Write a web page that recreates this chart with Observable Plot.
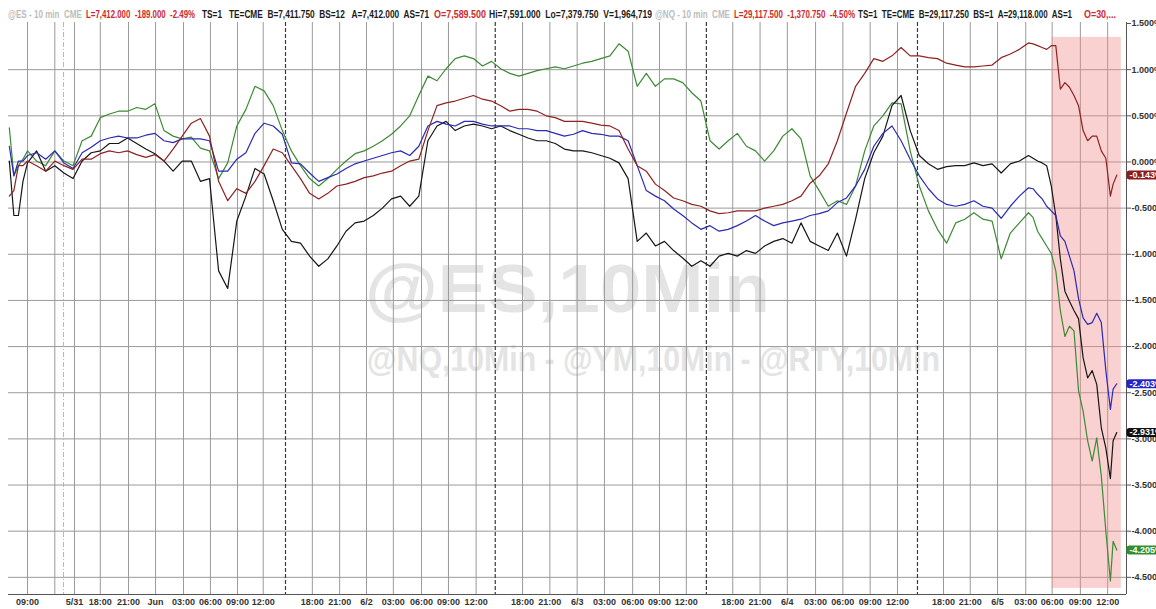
<!DOCTYPE html>
<html><head><meta charset="utf-8">
<script src="https://cdn.jsdelivr.net/npm/d3@7"></script>
<script src="https://cdn.jsdelivr.net/npm/@observablehq/plot@0.6"></script>
<style>
html,body{margin:0;padding:0;background:#fff;}
#chart{position:relative;width:1156px;height:609px;overflow:hidden;}
</style></head><body><div id="chart"></div>
<script>
// trading-time axis (hours, session gaps removed)
const hours = [-2,-1.5,-1,-0.5,
 0,1,2,3,4,5,6,7,8,9,
 10,11,12,13,14,15,16,17,18,19,
 20,21,22,23,24,25,26,27,28,29,
 30,31,32,33,34,35,36,37,38,39,
 40,41,42,43,44,45,46,47,48,49,
 50,51,52,53,54,55,56,57,58,59,
 60,61,62,63,64,65,66,67,68,69,
 70,71,72,73,74,75,76,77,78,79,
 80,81,82,83,84,85,86,87,88,89,
 90,91,92,93,94,95,96,97,98,99,
 100,101,102,103,104,105,106,107,108,109,
 110,110.5,111,111.5,112,112.5,113,113.5,114,114.5,115,115.5,116,116.5,117,117.5,118,118.5,119,
 119.3,119.7];

// % change series
const blackPct = [0.01,-0.58,-0.58,-0.21,
 -0.01,0.12,-0.10,-0.04,-0.12,-0.18,0.01,0.10,0.12,0.20,
 0.20,0.26,0.20,0.14,0.09,0.01,-0.10,0.01,0.01,-0.21,
 -0.18,-1.18,-1.37,-0.64,-0.37,-0.07,-0.13,-0.42,-0.73,-0.86,
 -0.88,-1.02,-1.13,-1.05,-0.91,-0.75,-0.66,-0.64,-0.58,-0.50,
 -0.40,-0.37,-0.48,-0.37,0.23,0.39,0.44,0.34,0.39,0.41,
 0.39,0.36,0.39,0.34,0.30,0.26,0.23,0.23,0.20,0.14,
 0.12,0.12,0.10,0.07,0.04,-0.01,-0.18,-0.86,-0.77,-0.91,
 -0.86,-0.96,-1.04,-1.13,-1.07,-1.13,-1.02,-0.99,-1.02,-0.96,
 -0.99,-0.91,-0.86,-0.83,-0.88,-0.66,-0.86,-0.91,-0.96,-0.77,
 -1.02,-0.62,-0.18,0.10,0.28,0.61,0.72,0.34,0.07,-0.02,
 -0.08,-0.05,-0.04,-0.04,-0.01,-0.04,-0.02,-0.12,-0.02,0.01,
 0.07,0.04,0.01,-0.01,-0.04,-0.26,-0.58,-1.05,-1.40,-1.51,-1.61,-1.70,-2.12,-2.34,-2.26,-2.41,-2.88,-3.10,-3.43,
 -3.02,-2.931];

const bluePct = [0.17,-0.15,0.01,0.01,
 0.07,0.10,0.03,0.12,-0.01,-0.07,0.10,0.16,0.23,0.26,
 0.28,0.26,0.26,0.29,0.31,0.23,0.21,0.25,0.25,0.25,
 0.23,-0.10,-0.10,0.03,0.10,0.31,0.42,0.39,0.30,-0.01,
 -0.02,-0.12,-0.21,-0.17,-0.13,-0.07,-0.02,0.01,0.04,0.07,
 0.10,0.12,0.07,0.17,0.39,0.44,0.41,0.39,0.44,0.44,
 0.41,0.39,0.39,0.39,0.36,0.36,0.34,0.34,0.31,0.28,
 0.30,0.34,0.31,0.30,0.28,0.28,0.23,-0.04,-0.31,-0.37,
 -0.42,-0.51,-0.58,-0.66,-0.73,-0.69,-0.75,-0.73,-0.69,-0.64,
 -0.58,-0.64,-0.69,-0.66,-0.64,-0.62,-0.58,-0.56,-0.53,-0.44,
 -0.39,-0.26,-0.08,0.17,0.31,0.39,0.23,0.03,-0.15,-0.29,
 -0.40,-0.46,-0.48,-0.46,-0.42,-0.48,-0.50,-0.61,-0.48,-0.37,
 -0.28,-0.29,-0.35,-0.40,-0.48,-0.53,-0.58,-0.80,-0.86,-1.02,-1.18,-1.48,-1.69,-1.76,-1.74,-1.64,-1.74,-2.26,-2.68,
 -2.46,-2.403];

const redPct = [-0.37,-0.31,-0.04,-0.04,
 0.01,-0.04,-0.10,0.01,-0.04,-0.08,0.03,0.03,0.09,0.12,
 0.10,0.12,0.08,0.05,0.08,0.01,0.14,0.28,0.42,0.47,
 0.28,-0.21,-0.42,-0.29,-0.34,-0.21,-0.04,0.14,0.10,-0.04,
 -0.18,-0.34,-0.40,-0.34,-0.26,-0.24,-0.21,-0.17,-0.15,-0.12,
 -0.10,-0.04,0.01,0.03,0.34,0.61,0.64,0.66,0.69,0.72,
 0.68,0.66,0.61,0.55,0.57,0.57,0.55,0.50,0.48,0.44,
 0.44,0.44,0.42,0.40,0.39,0.34,0.14,-0.04,-0.10,-0.24,
 -0.31,-0.39,-0.42,-0.46,-0.48,-0.53,-0.56,-0.55,-0.53,-0.53,
 -0.53,-0.50,-0.48,-0.46,-0.42,-0.37,-0.23,-0.15,-0.02,0.23,
 0.53,0.82,0.96,1.12,1.09,1.15,1.24,1.15,1.15,1.13,
 1.12,1.07,1.05,1.03,1.03,1.04,1.05,1.13,1.17,1.22,
 1.29,1.28,1.26,1.24,1.22,1.26,1.26,0.79,0.86,0.81,0.72,0.61,0.34,0.23,0.28,0.28,0.12,0.04,-0.37,
 -0.24,-0.143];

const greenPct = [0.37,-0.15,-0.04,0.03,
 0.12,0.01,-0.04,0.12,0.01,-0.04,0.23,0.28,0.48,0.52,
 0.55,0.55,0.59,0.57,0.63,0.34,0.28,0.25,0.27,0.15,
 0.12,-0.18,-0.01,0.39,0.57,0.82,0.77,0.61,0.34,0.12,
 -0.04,-0.18,-0.26,-0.18,-0.08,0.01,0.09,0.12,0.17,0.23,
 0.30,0.39,0.50,0.72,0.93,0.88,1.01,1.12,1.15,1.12,
 1.04,1.09,1.01,0.96,0.93,0.96,0.99,1.01,1.03,1.01,
 1.04,1.07,1.09,1.12,1.15,1.28,1.20,0.82,0.96,0.82,
 0.90,0.90,0.86,0.75,0.66,0.23,0.14,0.23,0.31,0.17,
 0.12,0.01,0.12,0.28,0.36,0.25,-0.15,-0.31,-0.48,-0.42,
 -0.46,-0.26,0.12,0.39,0.50,0.64,0.63,0.12,-0.26,-0.53,
 -0.73,-0.88,-0.66,-0.62,-0.55,-0.62,-0.64,-1.05,-0.77,-0.66,
 -0.55,-0.60,-0.75,-0.83,-0.91,-0.99,-1.18,-1.61,-1.89,-1.78,-1.83,-2.48,-2.70,-3.02,-3.24,-2.99,-3.40,-4.00,-4.54,
 -4.11,-4.205];

// x-axis ticks (trading-hour positions) and their labels
const tickHours  = [0,3,5.16,8,11.1,14.07,17.14,20.1,23.08,25.9,
 31.3,34.3,37.25,40.2,43.3,46.26,49.3,
 54.4,57.4,60.4,63.4,66.5,69.45,72.4,
 77.5,80.5,83.5,86.6,89.6,92.6,95.6,
 100.66,103.6,106.6,109.7,112.6,115.7,118.7];
const tickLabels = ["09:00","","5/31","18:00","21:00","Jun","03:00","06:00","09:00","12:00",
 "18:00","21:00","6/2","03:00","06:00","09:00","12:00",
 "18:00","21:00","6/3","03:00","06:00","09:00","12:00",
 "18:00","21:00","6/4","03:00","06:00","09:00","12:00",
 "18:00","21:00","6/5","03:00","06:00","09:00","12:00"];
const sessionBreaks = [28.35, 51.4, 74.6, 97.8];
const weekendBreak = [3.96];
const yTicks = [1.5,1,0.5,0,-0.5,-1,-1.5,-2,-2.5,-3,-3.5,-4,-4.5];
const highlight = [{x1: 112.6, x2: 120.2, y1: -4.62, y2: 1.35}];

// header groups: text and colour
const headerText = [
 "@ES - 10 min  CME",
 "L=7,412.000  -189.000  -2.49%",
 "TS=1   TE=CME  B=7,411.750  BS=12   A=7,412.000  AS=71",
 "O=7,589.500",
 "Hi=7,591.000  Lo=7,379.750  V=1,964,719",
 "@NQ - 10 min  CME",
 "L=29,117.500  -1,370.750  -4.50%",
 "TS=1  TE=CME  B=29,117.250  BS=1  A=29,118.000  AS=1",
 "O=30,..."
];
const headerColor = ["#bdbdbd","#d02a2a","#1a1a1a","#d02a2a","#1a1a1a","#bdbdbd","#d02a2a","#1a1a1a","#d02a2a"];
// layout of header groups (pixel start and width)
const headerLayout = [[8,74],[86,109],[202,227],[434,52],[489,163],[655,75],[734,121],[858,214],[1084,32]];
const watermark = ["@ES,10Min", "@NQ,10Min - @YM,10Min - @RTY,10Min"];

const seriesDefs = [
 {key: "green", values: greenPct, color: "#3c8a34"},
 {key: "black", values: blackPct, color: "#161616"},
 {key: "blue", values: bluePct, color: "#2a2ab4"},
 {key: "red", values: redPct, color: "#8e2222"}
];
const rows = seriesDefs.flatMap(s => hours.map((h, i) => ({s: s.key, h, v: s.values[i]})));
const colorOf = Object.fromEntries(seriesDefs.map(s => [s.key, s.color]));
const badgeData = [
 {v: redPct[redPct.length-1], color: "#8e1c1c"},
 {v: bluePct[bluePct.length-1], color: "#2424c8"},
 {v: blackPct[blackPct.length-1], color: "#111111"},
 {v: greenPct[greenPct.length-1], color: "#2f8f2f"}
];
const badgeText = d => d.v.toFixed(3) + "%";

const xDomain = [-2.09, 120.77];
const yDomain = [-4.686, 1.511];
const font = "'Liberation Sans', Arial, sans-serif";

const chart = Plot.plot({
  width: 1156, height: 609,
  marginLeft: 8, marginRight: 30, marginTop: 22, marginBottom: 15,
  style: {fontFamily: font, background: "#fff", overflow: "visible"},
  x: {type: "linear", domain: xDomain},
  y: {domain: yDomain},
  marks: [
    Plot.ruleY(yTicks.filter(d => d < 1.5), {stroke: "#9a9a9a", strokeWidth: 1}),
    Plot.ruleX(tickHours, {stroke: "#9a9a9a", strokeWidth: 1}),
    Plot.ruleX(weekendBreak, {stroke: "#b5b5b5", strokeWidth: 1, strokeDasharray: "5,2,1,2"}),
    Plot.ruleX(sessionBreaks, {stroke: "#3a3a3a", strokeWidth: 1.2, strokeDasharray: "4,2"}),
    Plot.rect(highlight, {x1: "x1", x2: "x2", y1: "y1", y2: "y2", fill: "#f08c8c", fillOpacity: 0.4}),
    Plot.line(rows, {x: "h", y: "v", z: "s", stroke: d => colorOf[d.s], strokeWidth: 1.2}),
    Plot.ruleY([yDomain[0]], {stroke: "#555", strokeWidth: 1}),
    Plot.ruleX([xDomain[1]], {stroke: "#555", strokeWidth: 1}),
    Plot.axisX({ticks: tickHours, tickFormat: d => tickLabels[tickHours.indexOf(d)], tickSize: 0, tickPadding: 4, fontSize: 9, fontWeight: "bold", fill: "#333", label: null}),
    Plot.axisY({anchor: "right", ticks: yTicks, tickFormat: d => d.toFixed(3) + "%", tickSize: 4, tickPadding: 1, fontSize: 9, fontWeight: "bold", fill: "#333", stroke: "#555", label: null}),
    Plot.text(badgeData, {y: "v", frameAnchor: "right", text: badgeText, textAnchor: "start", dx: 3, fill: "white", fontSize: 9, fontWeight: "bold"})
  ]
});
document.getElementById("chart").appendChild(chart);

const svg = d3.select(chart);
const svgBox = chart.getBoundingClientRect();

// watermark behind everything
const wm = svg.insert("g", "g").attr("font-family", font).attr("font-weight", "bold")
  .attr("fill", "#e4e4e4").attr("text-anchor", "start");
wm.append("text").attr("x", 365).attr("y", 312).attr("font-size", 68)
  .attr("textLength", 405).attr("lengthAdjust", "spacingAndGlyphs").text(watermark[0]);
wm.append("text").attr("x", 367).attr("y", 371).attr("font-size", 35)
  .attr("textLength", 573).attr("lengthAdjust", "spacingAndGlyphs").text(watermark[1]);

// header line, one text per group
const hg = svg.append("g").attr("font-family", font).attr("font-weight", "bold")
  .attr("font-size", 10).attr("text-anchor", "start");
headerText.forEach((t, i) => {
  const [x, w] = headerLayout[i];
  hg.append("text").attr("x", x).attr("y", 18).attr("fill", headerColor[i])
    .style("white-space", "pre").attr("textLength", w).attr("lengthAdjust", "spacingAndGlyphs").text(t);
});

// badge backgrounds
const labels = badgeData.map(badgeText);
svg.selectAll("text").filter(function() { return labels.includes(this.textContent); }).each(function() {
  const i = labels.indexOf(this.textContent);
  const b = this.getBoundingClientRect();
  const g = this.parentNode;
  const host = g.parentNode === chart ? g : this;
  svg.insert("rect", () => host)
    .attr("x", b.left - svgBox.left - 3).attr("y", b.top - svgBox.top + 0.5)
    .attr("width", b.width + 12).attr("height", b.height - 1)
    .attr("rx", 3).attr("fill", badgeData[i].color);
});
</script></body></html>
